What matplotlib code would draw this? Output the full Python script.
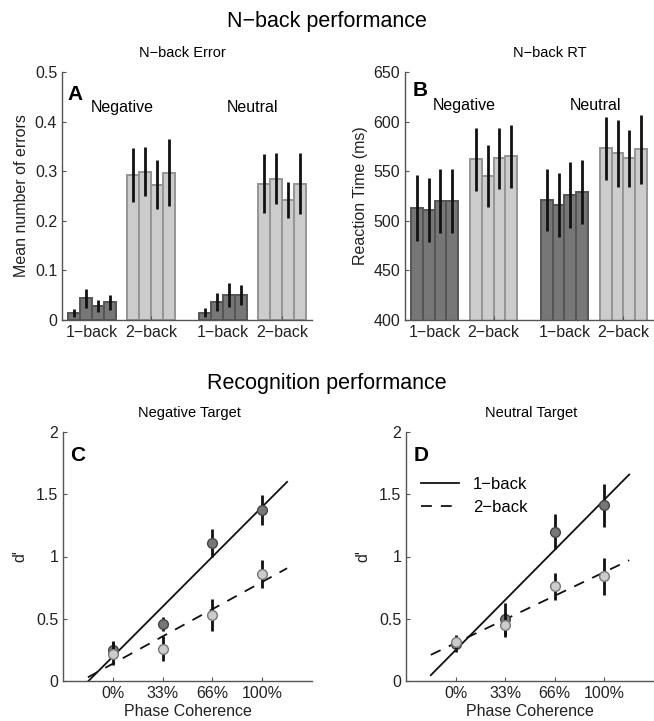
import numpy as np
import matplotlib
matplotlib.use("Agg")
import matplotlib.pyplot as plt

plt.rcParams['font.family'] = ['Liberation Sans', 'DejaVu Sans']

# --- data -----------------------------------------------------------------
groups = ['1\u2212back', '2\u2212back', '1\u2212back', '2\u2212back']

err_neg_1 = [0.015, 0.044, 0.029, 0.036]
err_neg_1_sem = [0.008, 0.019, 0.012, 0.015]
err_neg_2 = [0.292, 0.299, 0.273, 0.297]
err_neg_2_sem = [0.054, 0.050, 0.050, 0.068]
err_neu_1 = [0.015, 0.036, 0.050, 0.050]
err_neu_1_sem = [0.009, 0.018, 0.024, 0.020]
err_neu_2 = [0.275, 0.285, 0.242, 0.275]
err_neu_2_sem = [0.060, 0.052, 0.037, 0.062]

rt_neg_1 = [513, 511, 520, 520]
rt_neg_1_sem = [33, 32, 32, 32]
rt_neg_2 = [562, 545, 563, 565]
rt_neg_2_sem = [32, 31, 31, 32]
rt_neu_1 = [521, 516, 526, 529]
rt_neu_1_sem = [31, 32, 33, 32]
rt_neu_2 = [573, 568, 563, 572]
rt_neu_2_sem = [32, 34, 29, 35]

coherence = ['0%', '33%', '66%', '100%']
dp_neg_1 = [0.25, 0.46, 1.11, 1.37]
dp_neg_1_sem = [0.07, 0.055, 0.11, 0.12]
dp_neg_2 = [0.22, 0.26, 0.53, 0.86]
dp_neg_2_sem = [0.09, 0.10, 0.13, 0.11]
dp_neu_1 = [0.30, 0.50, 1.20, 1.41]
dp_neu_1_sem = [0.07, 0.13, 0.14, 0.17]
dp_neu_2 = [0.31, 0.45, 0.76, 0.84]
dp_neu_2_sem = [0.05, 0.10, 0.11, 0.15]

DARK = '#777777'
DARK_EDGE = '#555555'
LIGHT = '#cccccc'
LIGHT_EDGE = '#959595'
AXC = '#555555'

W, H = 654, 721
fig = plt.figure(figsize=(W / 100, H / 100), dpi=100)


def ax_at(l, t, r, b):
    return fig.add_axes([l / W, 1 - b / H, (r - l) / W, (b - t) / H])


def style(ax):
    for s in ['top', 'right']:
        ax.spines[s].set_visible(False)
    for s in ['left', 'bottom']:
        ax.spines[s].set_color(AXC)
        ax.spines[s].set_linewidth(1.0)
    ax.tick_params(direction='in', length=3, color=AXC, labelsize=11.5,
                   labelcolor='#222222')


def bar_panel(ax, series, sems, ylim, yticks, yticklabels, ylabel):
    starts = [1, 6, 12, 17]
    cols = [(DARK, DARK_EDGE), (LIGHT, LIGHT_EDGE)] * 2
    for st, vals, sem, (fc, ec) in zip(starts, series, sems, cols):
        x = st + np.arange(len(vals))
        ax.bar(x, vals, width=1.0, color=fc, edgecolor=ec, linewidth=1.4)
        ax.errorbar(x, vals, yerr=sem, fmt='none', ecolor='#111111',
                    elinewidth=2.0, capsize=0)
    ax.set_xlim(0, 21)
    ax.set_ylim(*ylim)
    ax.set_yticks(yticks)
    ax.set_yticklabels(yticklabels)
    ax.set_xticks([s + 1.5 for s in starts])
    ax.set_xticklabels(groups, fontsize=11.5)
    ax.set_ylabel(ylabel, fontsize=11.5, color='#222222')
    style(ax)


# --- A --------------------------------------------------------------------
axA = ax_at(62, 72, 312, 320)
bar_panel(axA, [err_neg_1, err_neg_2, err_neu_1, err_neu_2],
          [err_neg_1_sem, err_neg_2_sem, err_neu_1_sem, err_neu_2_sem],
          (0, 0.5), [0, 0.1, 0.2, 0.3, 0.4, 0.5],
          ['0', '0.1', '0.2', '0.3', '0.4', '0.5'], 'Mean number of errors')
axA.text(0.02, 0.91, 'A', transform=axA.transAxes, fontsize=15,
         fontweight='bold', va='center')
axA.text(0.24, 0.855, 'Negative', transform=axA.transAxes, fontsize=11.5,
         ha='center', va='center')
axA.text(0.76, 0.855, 'Neutral', transform=axA.transAxes, fontsize=11.5,
         ha='center', va='center')

# --- B --------------------------------------------------------------------
axB = ax_at(405, 72, 653, 320)
bar_panel(axB, [rt_neg_1, rt_neg_2, rt_neu_1, rt_neu_2],
          [rt_neg_1_sem, rt_neg_2_sem, rt_neu_1_sem, rt_neu_2_sem],
          (400, 650), [400, 450, 500, 550, 600, 650],
          ['400', '450', '500', '550', '600', '650'], 'Reaction Time (ms)')
axB.text(0.03, 0.925, 'B', transform=axB.transAxes, fontsize=15,
         fontweight='bold', va='center')
axB.text(0.24, 0.865, 'Negative', transform=axB.transAxes, fontsize=11.5,
         ha='center', va='center')
axB.text(0.77, 0.865, 'Neutral', transform=axB.transAxes, fontsize=11.5,
         ha='center', va='center')


# --- C / D ----------------------------------------------------------------
def dprime_panel(ax, d1, s1, d2, s2, letter):
    x = np.arange(1, len(d1) + 1)
    xf = np.array([0.5, 4.5])
    p1 = np.polyfit(x, d1, 1)
    p2 = np.polyfit(x, d2, 1)
    ax.plot(xf, np.polyval(p1, xf), color='#111111', lw=1.3, label='1\u2212back')
    ax.plot(xf, np.polyval(p2, xf), color='#111111', lw=1.3,
            dashes=(6, 5), label='2\u2212back')
    ax.errorbar(x, d1, yerr=s1, fmt='o', color='#111111', ecolor='#111111',
                elinewidth=2.0, capsize=0, ms=7, mfc=DARK, mec='#444444',
                mew=1.0, zorder=3)
    ax.errorbar(x, d2, yerr=s2, fmt='o', color='#111111', ecolor='#111111',
                elinewidth=2.0, capsize=0, ms=7, mfc=LIGHT, mec='#777777',
                mew=1.0, zorder=4)
    ax.set_xlim(0, 5)
    ax.set_ylim(0, 2)
    ax.set_xticks(x)
    ax.set_xticklabels(coherence, fontsize=11.5)
    ax.set_yticks([0, 0.5, 1, 1.5, 2])
    ax.set_yticklabels(['0', '0.5', '1', '1.5', '2'])
    ax.set_xlabel('Phase Coherence', fontsize=11.5, color='#222222', labelpad=2)
    ax.set_ylabel("d'", fontsize=11.5, color='#222222', labelpad=6)
    style(ax)
    ax.text(0.03, 0.905, letter, transform=ax.transAxes, fontsize=15,
            fontweight='bold', va='center')


axC = ax_at(63, 432, 312, 681)
dprime_panel(axC, dp_neg_1, dp_neg_1_sem, dp_neg_2, dp_neg_2_sem, 'C')

axD = ax_at(406, 432, 654, 681)
dprime_panel(axD, dp_neu_1, dp_neu_1_sem, dp_neu_2, dp_neu_2_sem, 'D')
h, l = axD.get_legend_handles_labels()
axD.legend(h[:2], l[:2], loc='upper left', bbox_to_anchor=(0.0, 0.88),
           frameon=False, fontsize=12, handlelength=2.3)

# --- titles ---------------------------------------------------------------
fig.text(327 / W, 1 - 22 / H, 'N\u2212back performance', fontsize=15.5,
         ha='center', va='center')
fig.text(327 / W, 1 - 384 / H, 'Recognition performance', fontsize=15.5,
         ha='center', va='center')
fig.text(182 / W, 1 - 53 / H, 'N\u2212back Error', fontsize=10.5,
         ha='center', va='center')
fig.text(550 / W, 1 - 53 / H, 'N\u2212back RT', fontsize=10.5,
         ha='center', va='center')
fig.text(189 / W, 1 - 413 / H, 'Negative Target', fontsize=10.5,
         ha='center', va='center')
fig.text(531 / W, 1 - 413 / H, 'Neutral Target', fontsize=10.5,
         ha='center', va='center')

fig.savefig('out.png', dpi=100)
